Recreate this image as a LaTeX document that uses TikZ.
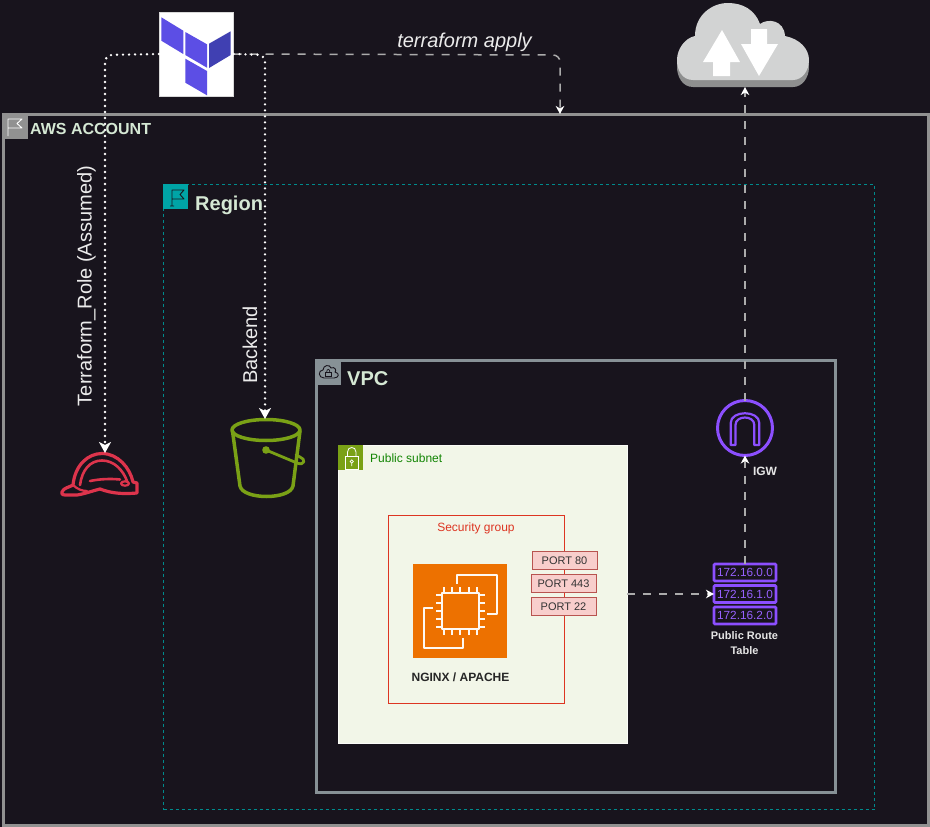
\documentclass[tikz,border=0pt]{standalone}
\usepackage{fontspec}
\setmainfont{Liberation Sans}
\usetikzlibrary{arrows.meta}
\definecolor{bgdark}{HTML}{18141D}
\definecolor{acct}{HTML}{919191}
\definecolor{vpcgrey}{HTML}{879196}
\definecolor{teal}{HTML}{00A4A6}
\definecolor{subfill}{HTML}{F2F6E8}
\definecolor{leaf}{HTML}{7AA116}
\definecolor{sgred}{HTML}{DD3522}
\definecolor{portfill}{HTML}{F8CECC}
\definecolor{portline}{HTML}{B85450}
\definecolor{ecorange}{HTML}{ED7100}
\definecolor{awspurple}{HTML}{8C4FFF}
\definecolor{hatred}{HTML}{DD344C}
\definecolor{titlegreen}{HTML}{D5E8D4}
\definecolor{tfa}{HTML}{5C4EE5}
\definecolor{tfb}{HTML}{4040B2}
\definecolor{cloudlight}{HTML}{D2D3D3}
\definecolor{clouddark}{HTML}{8E8F8F}
\definecolor{linegrey}{HTML}{ABABAB}
\tikzset{
  x=1pt,y=-1pt,
  area/.style={anchor=north west,inner sep=0pt,outer sep=0pt},
  hdr/.style={area,minimum width=25pt,minimum height=25pt},
  icon/.style={anchor=center,inner sep=0pt,outer sep=0pt},
  title/.style={anchor=base west,inner sep=0pt,text=titlegreen,font=\fontsize{20}{22}\selectfont\bfseries},
  small/.style={inner sep=0pt,font=\fontsize{12}{14}\selectfont},
  whitebold/.style={inner sep=0pt,align=center,text=white!90!black,font=\fontsize{11}{15}\selectfont\bfseries},
  sidelabel/.style={rotate=90,inner sep=0pt,text=white!92!black,font=\fontsize{20}{22}\selectfont},
  portbox/.style={area,draw=portline,fill=portfill,line width=0.9pt,minimum width=65pt,minimum height=18pt,text=black!80,font=\fontsize{11}{13}\selectfont},
  rtbox/.style={area,draw=awspurple,line width=2.8pt,rounded corners=1pt,minimum width=62pt,minimum height=17pt,text=awspurple!90!white,font=\fontsize{11.8}{14}\selectfont},
  dotline/.style={draw=white,line width=2.6pt,line cap=round,dash pattern=on 0pt off 6pt,rounded corners=7pt},
  dashline/.style={draw=linegrey,line width=1.5pt,dash pattern=on 8pt off 8pt,rounded corners=7pt},
  dottip/.style={-{Stealth[inset=3pt,length=11pt,width=12pt,color=white,line cap=butt]}},
  dashtip/.style={-{Stealth[inset=2.5pt,length=8pt,width=8.5pt,color=white]}},
  hatline/.style={draw=hatred,line width=3.2pt,line join=round,line cap=round},
  bucketline/.style={draw=leaf,line width=3.5pt,line join=round,line cap=round},
  chipline/.style={draw=white!95!ecorange,line width=2.6pt,line join=round},
}
\begin{document}
\begin{tikzpicture}
\useasboundingbox (0,0) rectangle (930,827);
\fill[bgdark] (0,0) rectangle (930,827);

% Account
\node[area,draw=acct,line width=3pt,minimum width=925pt,minimum height=711pt] (account) at (3,114) {};
\node[hdr,fill=acct] (accounthdr) at (3,114) {};
\draw[white,line width=0.9pt,line join=round] (8,136)--(8,119)--(22,119)--(17,123.5)--(22,128)--(8,128);
\node[title,font=\fontsize{16}{18}\selectfont\bfseries] (accountlabel) at (30,134) {AWS ACCOUNT};

% Region
\node[area,draw=teal!85!black,line width=0.9pt,dash pattern=on 3pt off 3pt,minimum width=711pt,minimum height=625pt] (region) at (163.5,184.5) {};
\node[hdr,fill=teal] (regionhdr) at (163,184) {};
\draw[bgdark,line width=0.9pt,line join=round] (172,206)--(172,190)--(184,190)--(180,194.5)--(184,199)--(172,199) (170,206)--(174,206);
\node[title] (regionlabel) at (195,210) {Region};

% VPC
\node[area,draw=vpcgrey,line width=3pt,minimum width=519pt,minimum height=432pt] (vpc) at (316,360) {};
\node[hdr,fill=vpcgrey] (vpchdr) at (316,360) {};
\draw[bgdark,line width=0.9pt,line join=round] (324,378)..controls (318,378) and (318,370) ..(323,370)
  ..controls (323,365) and (330,364) ..(331,368)..controls (335,366) and (337,371) ..(335,372)
  ..controls (340,373) and (339,378) ..(334,378)--cycle;
\draw[bgdark,line width=0.8pt] (325.5,372) rectangle (331,376.5);
\draw[bgdark,line width=0.7pt] (326.7,372)..controls (326.7,368.5) and (329.8,368.5) ..(329.8,372);
\node[title] (vpclabel) at (347,385) {VPC};

% Public subnet
\node[area,fill=subfill,draw=white!70!subfill,line width=0.4pt,minimum width=289pt,minimum height=298pt] (subnet) at (338,445) {};
\node[hdr,fill=leaf] (subnethdr) at (338,445) {};
\draw[white,line width=0.8pt] (345.5,456) rectangle (358,469);
\draw[white,line width=0.8pt] (347.5,456)--(347.5,452)..controls (347.5,446) and (356,446) ..(356,452)--(356,456);
\draw[white,line width=0.7pt] (351.7,461.5) circle (1.6) (351.7,463)--(351.7,466);
\node[small,anchor=west,text=green!50!black!85!leaf,font=\fontsize{12}{14}\selectfont] (subnetlabel) at (370,458) {Public subnet};

% Security group
\node[area,draw=sgred,line width=0.9pt,minimum width=176pt,minimum height=188pt] (sg) at (388.5,515.5) {};
\node[small,text=sgred] (sglabel) at (476,528) {Security group};

% EC2
\node[area,fill=ecorange,minimum width=94pt,minimum height=94pt] (ec2) at (413,564) {};
\draw[chipline] (457,584)--(457,575)--(497,575)--(497,614)--(487,614);
\draw[chipline] (433,608)--(424,608)--(424,648)--(463,648)--(463,638);
\draw[chipline] (442,593) rectangle (479,629);
\foreach \t in {0,1,2,3,4}{
  \draw[chipline,line width=2pt] (444+\t*8.2,593)--++(0,-6) (444+\t*8.2,629)--++(0,6);
  \draw[chipline,line width=2pt] (442,595+\t*8)--++(-6,0) (479,595+\t*8)--++(6,0);
}
\node[small,text=black!85,font=\fontsize{12}{14}\selectfont\bfseries] (ec2label) at (460.5,677) {NGINX / APACHE};

% Ports
\node[portbox] (port80) at (532,551.5) {PORT 80};
\node[portbox] (port443) at (531,574.5) {PORT 443};
\node[portbox] (port22) at (531,597.5) {PORT 22};

% Internet gateway
\node[icon,draw=awspurple,line width=3pt,circle,minimum size=55pt] (igw) at (745,428) {};
\draw[awspurple,line width=2.2pt,line join=round] (730.7,445)--(730.7,423)..controls (730.7,410) and (759.3,410) ..(759.3,423)--(759.3,445)--(754.3,445)--(754.3,425)
  ..controls (754.3,415) and (735.5,415) ..(735.5,425)--(735.5,445)--cycle;
\node[whitebold,font=\fontsize{12}{14}\selectfont\bfseries] (igwlabel) at (765,471.5) {IGW};

% Route table
\node[rtbox] (rta) at (714,564) {172.16.0.0};
\node[rtbox] (rtb) at (714,585.5) {172.16.1.0};
\node[rtbox] (rtc) at (714,607) {172.16.2.0};
\node[whitebold] (rtlabel) at (744.5,643) {Public Route\\Table};

% S3 bucket
\node[icon,minimum width=74pt,minimum height=78pt] (bucket) at (268,458) {};
\draw[bucketline] (266,430) ellipse [x radius=34,y radius=10.5];
\draw[bucketline] (232.5,431)--(240,486)..controls (243,500) and (290,500) ..(293,486)--(300,431);
\fill[leaf] (266,450) circle (3.8);
\draw[bucketline,line width=2.8pt] (266,450)--(297,463)..controls (305,466) and (306,459) ..(300,457)--(296,455);

% Role helmet
\node[icon,minimum width=76pt,minimum height=43pt] (role) at (100,474.5) {};
\draw[hatline] (62,492)..controls (63,488) and (70,487) ..(73,485)..controls (75,465) and (88,453.5) ..(102,453.5)
  ..controls (118,453.5) and (130,468) ..(133,482)--(137,483)--(137,493)..controls (125,494) and (113,494) ..(100,489)
  ..controls (92,491) and (84,494) ..(77,495)--(65,495)..controls (62,495) and (61,493) ..(62,492)--cycle;
\draw[hatline,line width=2.6pt] (80,485)..controls (82,470) and (90,460.5) ..(102,460.5)..controls (114,460.5) and (123,470) ..(127,481);
\draw[hatline,line width=2.6pt] (90,481)..controls (100,479) and (110,478.5) ..(120,479.5);
\draw[hatline,line width=2.2pt] (125,483.5) ellipse [x radius=4,y radius=2.2];
\draw[hatline,line width=2.2pt] (73,485)..controls (77,489) and (82,491) ..(87,491);

% Cloud
\node[icon,minimum width=132pt,minimum height=84pt] (cloud) at (743,45) {};
\path[fill=clouddark] (693,87)..controls (682,87) and (677,76) ..(677,67)..controls (677,55) and (685,44) ..(695,43)--(785,43)..controls (800,46) and (809,56) ..(809,67)..controls (809,78) and (802,87) ..(793,87)--cycle;
\path[fill=cloudlight] (693,80)..controls (682,80) and (677,70) ..(677,60)..controls (677,49) and (685,38) ..(695,36)
  ..controls (695,15) and (712,3) ..(728,3)..controls (743,3) and (755,10) ..(760,24)..controls (768,18) and (784,20) ..(785,36)
  ..controls (800,39) and (809,49) ..(809,60)..controls (809,71) and (802,80) ..(793,80)--cycle;
\fill[white] (722,30)--(740,62)--(730,62)--(730,76)--(713,76)--(713,62)--(703,62)--cycle;
\fill[white] (759,76)--(778,44)--(767,44)--(767,29)--(751,29)--(751,44)--(741,44)--cycle;

% Terraform logo
\node[area,fill=white,draw=black!15,line width=0.5pt,minimum width=74.5pt,minimum height=84pt] (tf) at (159,12) {};
\fill[tfa] (161.3,17.3)--(183.3,30.7)--(183.3,54)--(161.3,40.7)--cycle;
\fill[tfa] (185.3,32)--(207,44.3)--(207,67.7)--(185.3,55)--cycle;
\fill[tfb] (209,43.7)--(230.7,31.3)--(230.7,55)--(209,68)--cycle;
\fill[tfa] (185.3,58.7)--(207,71)--(207,95.3)--(185.3,82.7)--cycle;

% Connectors
\coordinate (roleturn) at (105,55);
\coordinate (backendturn) at (265,55);
\coordinate (applyturn) at (560,55);
\draw[dashline,dashtip] (tf.east)--(applyturn)--(applyturn |- account.north);
\draw[dotline,dottip] (tf.west)--(roleturn)--(roleturn |- role.north);
\draw[dotline,dottip] (tf.east)--(backendturn)--(backendturn |- bucket.north);
\draw[dashline,dashtip] (igw.north)--(igw.north |- cloud.south);
\draw[dashline,dashtip] (rta.north)--(igw.south);
\draw[dashline,dashtip] (subnet.east)--(rtb.west);

% Connector labels
\node[anchor=base,inner sep=0pt,text=white!92!black,font=\fontsize{20}{22}\selectfont\itshape] (applylabel) at (464.5,47) {terraform apply};
\node[sidelabel] (rolelabel) at (86.5,286) {Terraform\_Role (Assumed)};
\node[sidelabel] (backendlabel) at (250,345) {Backend};
\end{tikzpicture}
\end{document}
